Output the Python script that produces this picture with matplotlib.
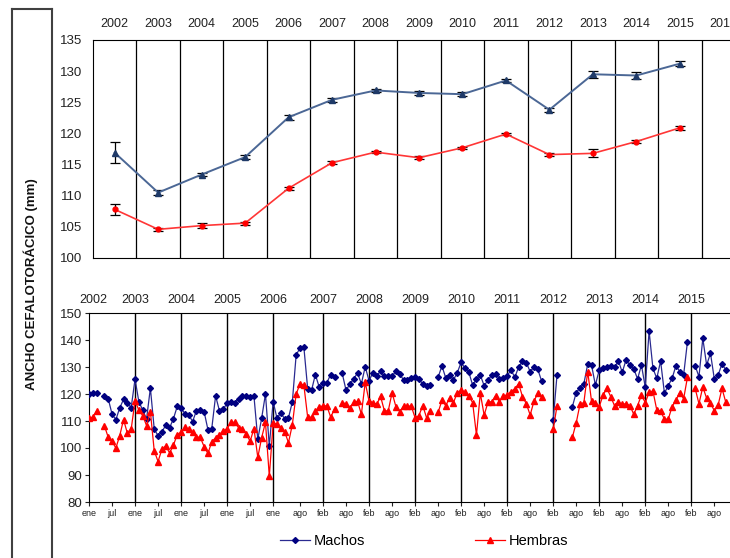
import numpy as np
import matplotlib

matplotlib.use("Agg")
import matplotlib.pyplot as plt
from matplotlib.lines import Line2D

plt.rcParams["font.family"] = ["Liberation Sans", "DejaVu Sans"]

nan = np.nan

# --- annual means (top panel) ---
years = ["2002", "2003", "2004", "2005", "2006", "2007", "2008", "2009",
         "2010", "2011", "2012", "2013", "2014", "2015", "2016"]
machos_anual = [116.9, 110.5, 113.4, 116.2, 122.6, 125.4, 126.9, 126.5,
                126.3, 128.5, 123.8, 129.5, 129.3, 131.2]
machos_err = [1.7, 0.4, 0.3, 0.35, 0.4, 0.3, 0.25, 0.25, 0.3, 0.2, 0.3, 0.6, 0.5, 0.4]
hembras_anual = [107.8, 104.6, 105.2, 105.6, 111.2, 115.3, 117.0, 116.1,
                 117.7, 119.9, 116.6, 116.8, 118.7, 120.9]
hembras_err = [0.9, 0.25, 0.35, 0.25, 0.25, 0.2, 0.15, 0.25, 0.2, 0.15, 0.3, 0.65, 0.25, 0.3]

# --- monthly means (bottom panel), one value per month from ene 2002 ---
machos_mes = [
    120.1, 120.2, 120.5, nan, 119.2, 118.3, 112.6, 110.5, 114.8, 118.0, 116.5, 115.0,
    125.5, 117.1, 114.1, 110.7, 122.2, 107.1, 104.5, 106.0, 108.4, 107.5, 110.8, 115.4,
    114.9, 112.7, 112.3, 109.8, 113.8, 114.0, 113.5, 106.8, 107.2, 119.3, 113.8, 114.5,
    116.5, 117.2, 116.8, 118.2, 119.2, 119.3, 118.8, 119.2, 103.2, 111.0, 120.0, 100.7,
    117.2, 111.0, 113.0, 110.8, 111.2, 117.0, 134.5, 137.0, 137.5, 122.0, 121.3, 127.2,
    122.6, 124.2, 124.2, 127.2, 126.2, nan, 127.7, 121.4, 123.6, 125.7, 127.7, 123.8,
    130.1, 124.9, 127.9, 126.8, 128.4, 126.5, 126.5, 126.5, 128.5, 127.5, 125.1, 125.1,
    126.1, 126.4, 125.7, 123.6, 123.0, 123.3, nan, 126.2, 130.4, 125.9, 127.2, 125.2,
    127.9, 131.7, 129.6, 128.1, 123.3, 125.6, 127.0, 123.1, 125.1, 127.0, 127.5, 125.6,
    125.8, 126.7, 128.9, 126.2, 130.0, 132.2, 131.6, 128.3, 130.0, 129.1, 124.7, nan,
    nan, 110.3, 127.1, nan, nan, nan, 115.3, 120.5, 122.3, 123.8, 131.1, 130.7,
    123.3, 128.9, 129.5, 130.1, 130.5, 129.9, 132.4, 128.0, 132.7, 130.7, 129.3, 125.6,
    130.7, 122.6, 143.3, 129.5, 125.8, 132.2, 120.3, 123.1, 125.8, 130.5, 128.3, 127.0,
    139.4, nan, 130.5, 126.4, 140.6, 130.7, 135.1, 125.6, 127.0, 131.2, 128.9,
]
hembras_mes = [
    111.0, 111.5, 113.8, nan, 108.3, 104.0, 102.5, 100.0, 104.5, 110.5, 105.5, 107.0,
    117.5, 114.0, 112.0, 108.3, 113.5, 99.0, 95.0, 99.5, 100.8, 98.2, 101.0, 105.0,
    105.8, 107.6, 107.0, 105.8, 104.0, 104.0, 100.5, 98.0, 102.3, 103.8, 105.0, 106.3,
    107.2, 109.5, 109.5, 107.5, 107.2, 105.2, 102.5, 107.2, 96.5, 103.8, 109.5, 89.5,
    109.2, 108.8, 107.5, 106.0, 102.0, 108.6, 120.0, 123.7, 123.4, 111.4, 111.4, 113.6,
    115.2, 115.6, 115.6, 111.4, 114.5, nan, 116.8, 116.4, 114.9, 116.9, 117.3, 112.5,
    124.3, 117.4, 116.8, 116.2, 119.1, 113.8, 113.7, 120.5, 115.3, 113.5, 115.5, 115.5,
    115.5, 111.2, 112.0, 115.7, 111.2, 113.6, nan, 113.2, 117.6, 115.7, 118.6, 116.8,
    120.5, 121.3, 120.8, 119.3, 116.8, 104.8, 120.3, 112.2, 116.9, 117.2, 119.4, 117.2,
    119.4, 119.6, 120.9, 121.9, 123.8, 119.0, 116.4, 112.2, 117.4, 120.3, 119.0, nan,
    nan, 106.9, 115.6, nan, nan, nan, 104.0, 109.3, 116.3, 116.8, 128.3, 117.3,
    116.6, 115.3, 119.6, 122.1, 119.0, 115.6, 116.9, 116.2, 116.4, 115.7, 112.5, 115.7,
    119.6, 116.8, 120.6, 121.1, 114.1, 113.7, 110.6, 110.7, 115.3, 117.8, 120.5, 118.2,
    126.2, nan, 122.1, 116.4, 122.6, 118.4, 116.6, 113.8, 115.9, 122.1, 116.9,
]

# calendar of the monthly axis
year_starts = [0, 12, 24, 36, 48, 61, 73, 85, 97, 109, 121, 133, 145, 157]
month_ticks = [0, 6, 12, 18, 24, 30, 36, 42, 48, 55] + list(range(61, 167, 6))
month_labels = ["ene", "jul"] * 4 + ["ene", "ago"] + ["feb", "ago"] * 9

BLUE_TOP = "#1f3a68"
BLUE_TOP_LINE = "#4b6795"
NAVY = "#000080"
NAVY_LINE = "#2a2a90"
RED = "#ff0000"

W, H = 730, 558
fig = plt.figure(figsize=(W / 100, H / 100), dpi=100)

# ---------- top panel ----------
ax1 = fig.add_axes([93 / W, 1 - 258 / H, (745 - 93) / W, 218 / H])
x = np.arange(len(machos_anual))
ax1.errorbar(x, machos_anual, yerr=machos_err, color=BLUE_TOP_LINE, lw=1.4,
             marker="^", ms=5, mfc=BLUE_TOP, mec=BLUE_TOP, ecolor="black",
             elinewidth=0.9, capsize=3.5, capthick=0.9, zorder=3)
ax1.errorbar(x, hembras_anual, yerr=hembras_err, color="#ff3636", lw=1.2,
             marker="o", ms=3.5, mfc=RED, mec=RED, ecolor="black",
             elinewidth=0.9, capsize=3.5, capthick=0.9, zorder=3)
for b in np.arange(0.5, 15, 1):
    ax1.axvline(b, color="black", lw=0.9, zorder=1)
ax1.set_xlim(-0.5, 14.5)
ax1.set_ylim(100, 135)
ax1.set_yticks(range(100, 136, 5))
ax1.xaxis.tick_top()
ax1.set_xticks(range(len(years)))
ax1.set_xticklabels(years)
ax1.tick_params(axis="x", length=0, pad=7, labelsize=9, colors="#222222")
ax1.tick_params(axis="y", length=0, pad=8, labelsize=9.5, colors="#222222")
ax1.spines["right"].set_visible(False)

# ---------- bottom panel ----------
ax2 = fig.add_axes([89 / W, 1 - 502 / H, (745 - 89) / W, 189 / H])
m = np.arange(len(machos_mes))
ax2.plot(m, machos_mes, color=NAVY_LINE, lw=0.9, marker="D", ms=3,
         mfc=NAVY, mec=NAVY, label="Machos", zorder=3)
ax2.plot(m, hembras_mes, color=RED, lw=0.9, marker="^", ms=3.8,
         mfc=RED, mec=RED, label="Hembras", zorder=3)
for xs in year_starts[1:] + [169]:
    ax2.axvline(xs, color="black", lw=1.0, zorder=1)
for xs, yr in zip(year_starts, years):
    ax2.text(xs + (1 if xs == 0 else 0), 1.035, yr, transform=ax2.get_xaxis_transform(),
             ha="center", va="bottom", fontsize=9, color="#222222")
ax2.set_xlim(0, 171)
ax2.set_ylim(80, 150)
ax2.set_yticks(range(80, 151, 10))
ax2.set_xticks(month_ticks)
ax2.set_xticklabels(month_labels[:len(month_ticks)])
ax2.tick_params(axis="x", length=3, pad=2, labelsize=6.5, colors="#222222")
ax2.tick_params(axis="y", length=3, pad=2, labelsize=9.5, colors="#222222")
ax2.spines["right"].set_visible(False)

# legend
handles = [
    Line2D([], [], color=NAVY_LINE, lw=0.9, marker="D", ms=3, mfc=NAVY, mec=NAVY),
    Line2D([], [], color=RED, lw=0.9, marker="^", ms=4, mfc=RED, mec=RED),
]
fig.legend(handles, ["Machos", "Hembras"], loc="center", bbox_to_anchor=(0.581, 0.03),
           ncol=2, frameon=False, fontsize=10.5, handlelength=2.0, columnspacing=7.6,
           handletextpad=0.25)

# left frame with the axis title
lc = "#404040"
fig.add_artist(Line2D([12 / W, 12 / W], [0, 1 - 9 / H], transform=fig.transFigure, color=lc, lw=1.5))
fig.add_artist(Line2D([52 / W, 52 / W], [0, 1 - 9 / H], transform=fig.transFigure, color=lc, lw=1.5))
fig.add_artist(Line2D([12 / W, 52 / W], [1 - 9 / H, 1 - 9 / H], transform=fig.transFigure, color=lc, lw=1.5))
fig.text(31 / W, 1 - 284 / H, "ANCHO CEFALOTORÁCICO (mm)", rotation=90, ha="center",
         va="center", fontsize=9.5, fontweight="bold", color="#111111")

fig.savefig("out.png", dpi=100)
